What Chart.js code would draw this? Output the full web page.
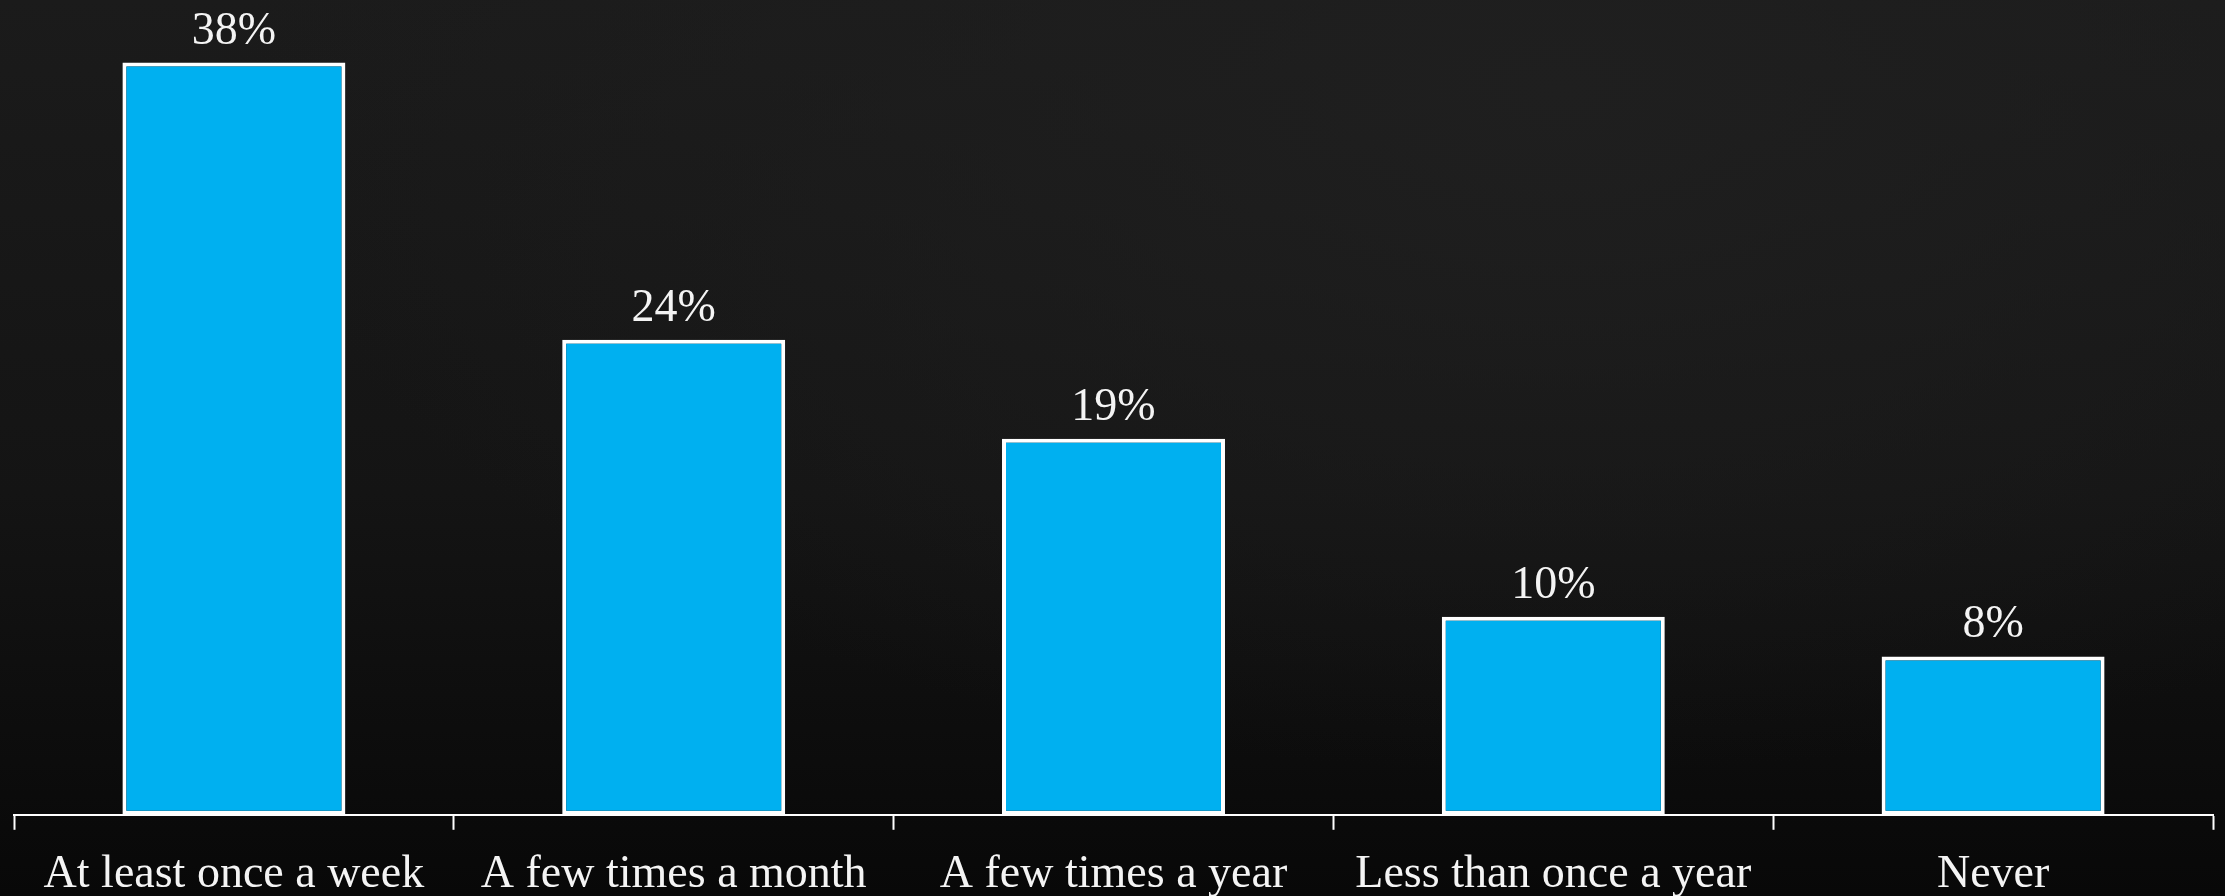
<!DOCTYPE html>
<html>
<head>
<meta charset="utf-8">
<script src="https://cdn.jsdelivr.net/npm/chart.js@4.4.1/dist/chart.umd.min.js"></script>
<style>
  html, body { margin: 0; padding: 0; }
  body {
    width: 2225px; height: 896px; overflow: hidden;
    background: radial-gradient(ellipse at 70% 10%, #1f1f1f 0%, rgba(0,0,0,0) 60%),
                linear-gradient(to bottom, #1b1b1b 0%, #141414 55%, #080808 100%);
  }
  #wrap { position: relative; width: 2225px; height: 896px; }
</style>
</head>
<body>
<div id="wrap"><canvas id="freqChart"></canvas></div>
<script>
// How often people go
let categories = ["At least once a week", "A few times a month", "A few times a year", "Less than once a year", "Never"];
let shares = [38, 24, 19, 10, 8];

// writes "NN%" above each bar
const valueLabels = {
    id: 'valueLabels',
    afterDatasetsDraw(chart) {
        const ctx = chart.ctx;
        const meta = chart.getDatasetMeta(0);
        ctx.save();
        ctx.fillStyle = '#f4f4f4';
        ctx.font = '46px "Liberation Serif", serif';
        ctx.textAlign = 'center';
        ctx.textBaseline = 'alphabetic';
        meta.data.forEach((bar, i) => {
            ctx.fillText(shares[i] + '%', bar.x, bar.y - 19);
        });
        ctx.restore();
    }
};

let ctxB = document.getElementById("freqChart").getContext('2d');
let freqChart = new Chart(ctxB, {
    type: 'bar',
    data: {
        labels: categories,
        datasets: [{
            data: shares,
            backgroundColor: '#00b0f0',
            borderColor: '#ffffff',
            borderWidth: 4,
            borderSkipped: false,
            categoryPercentage: 1.0,
            barPercentage: 0.507
        }]
    },
    options: {
        responsive: true,
        maintainAspectRatio: false,
        animation: false,
        layout: { padding: { left: 14, right: 12, top: 23, bottom: -25 } },
        plugins: {
            legend: { display: false },
            tooltip: { enabled: false }
        },
        scales: {
            y: { display: false, min: 0, max: 40 },
            x: {
                offset: true,
                border: { display: true, color: '#ffffff', width: 2 },
                grid: {
                    offset: true,
                    drawOnChartArea: false,
                    drawTicks: true,
                    tickLength: 15,
                    tickWidth: 2,
                    tickColor: '#ffffff'
                },
                ticks: {
                    color: '#f4f4f4',
                    padding: 18,
                    maxRotation: 0,
                    autoSkip: false,
                    font: { family: '"Liberation Serif", serif', size: 46 }
                }
            }
        }
    },
    plugins: [valueLabels]
});
</script>
</body>
</html>
